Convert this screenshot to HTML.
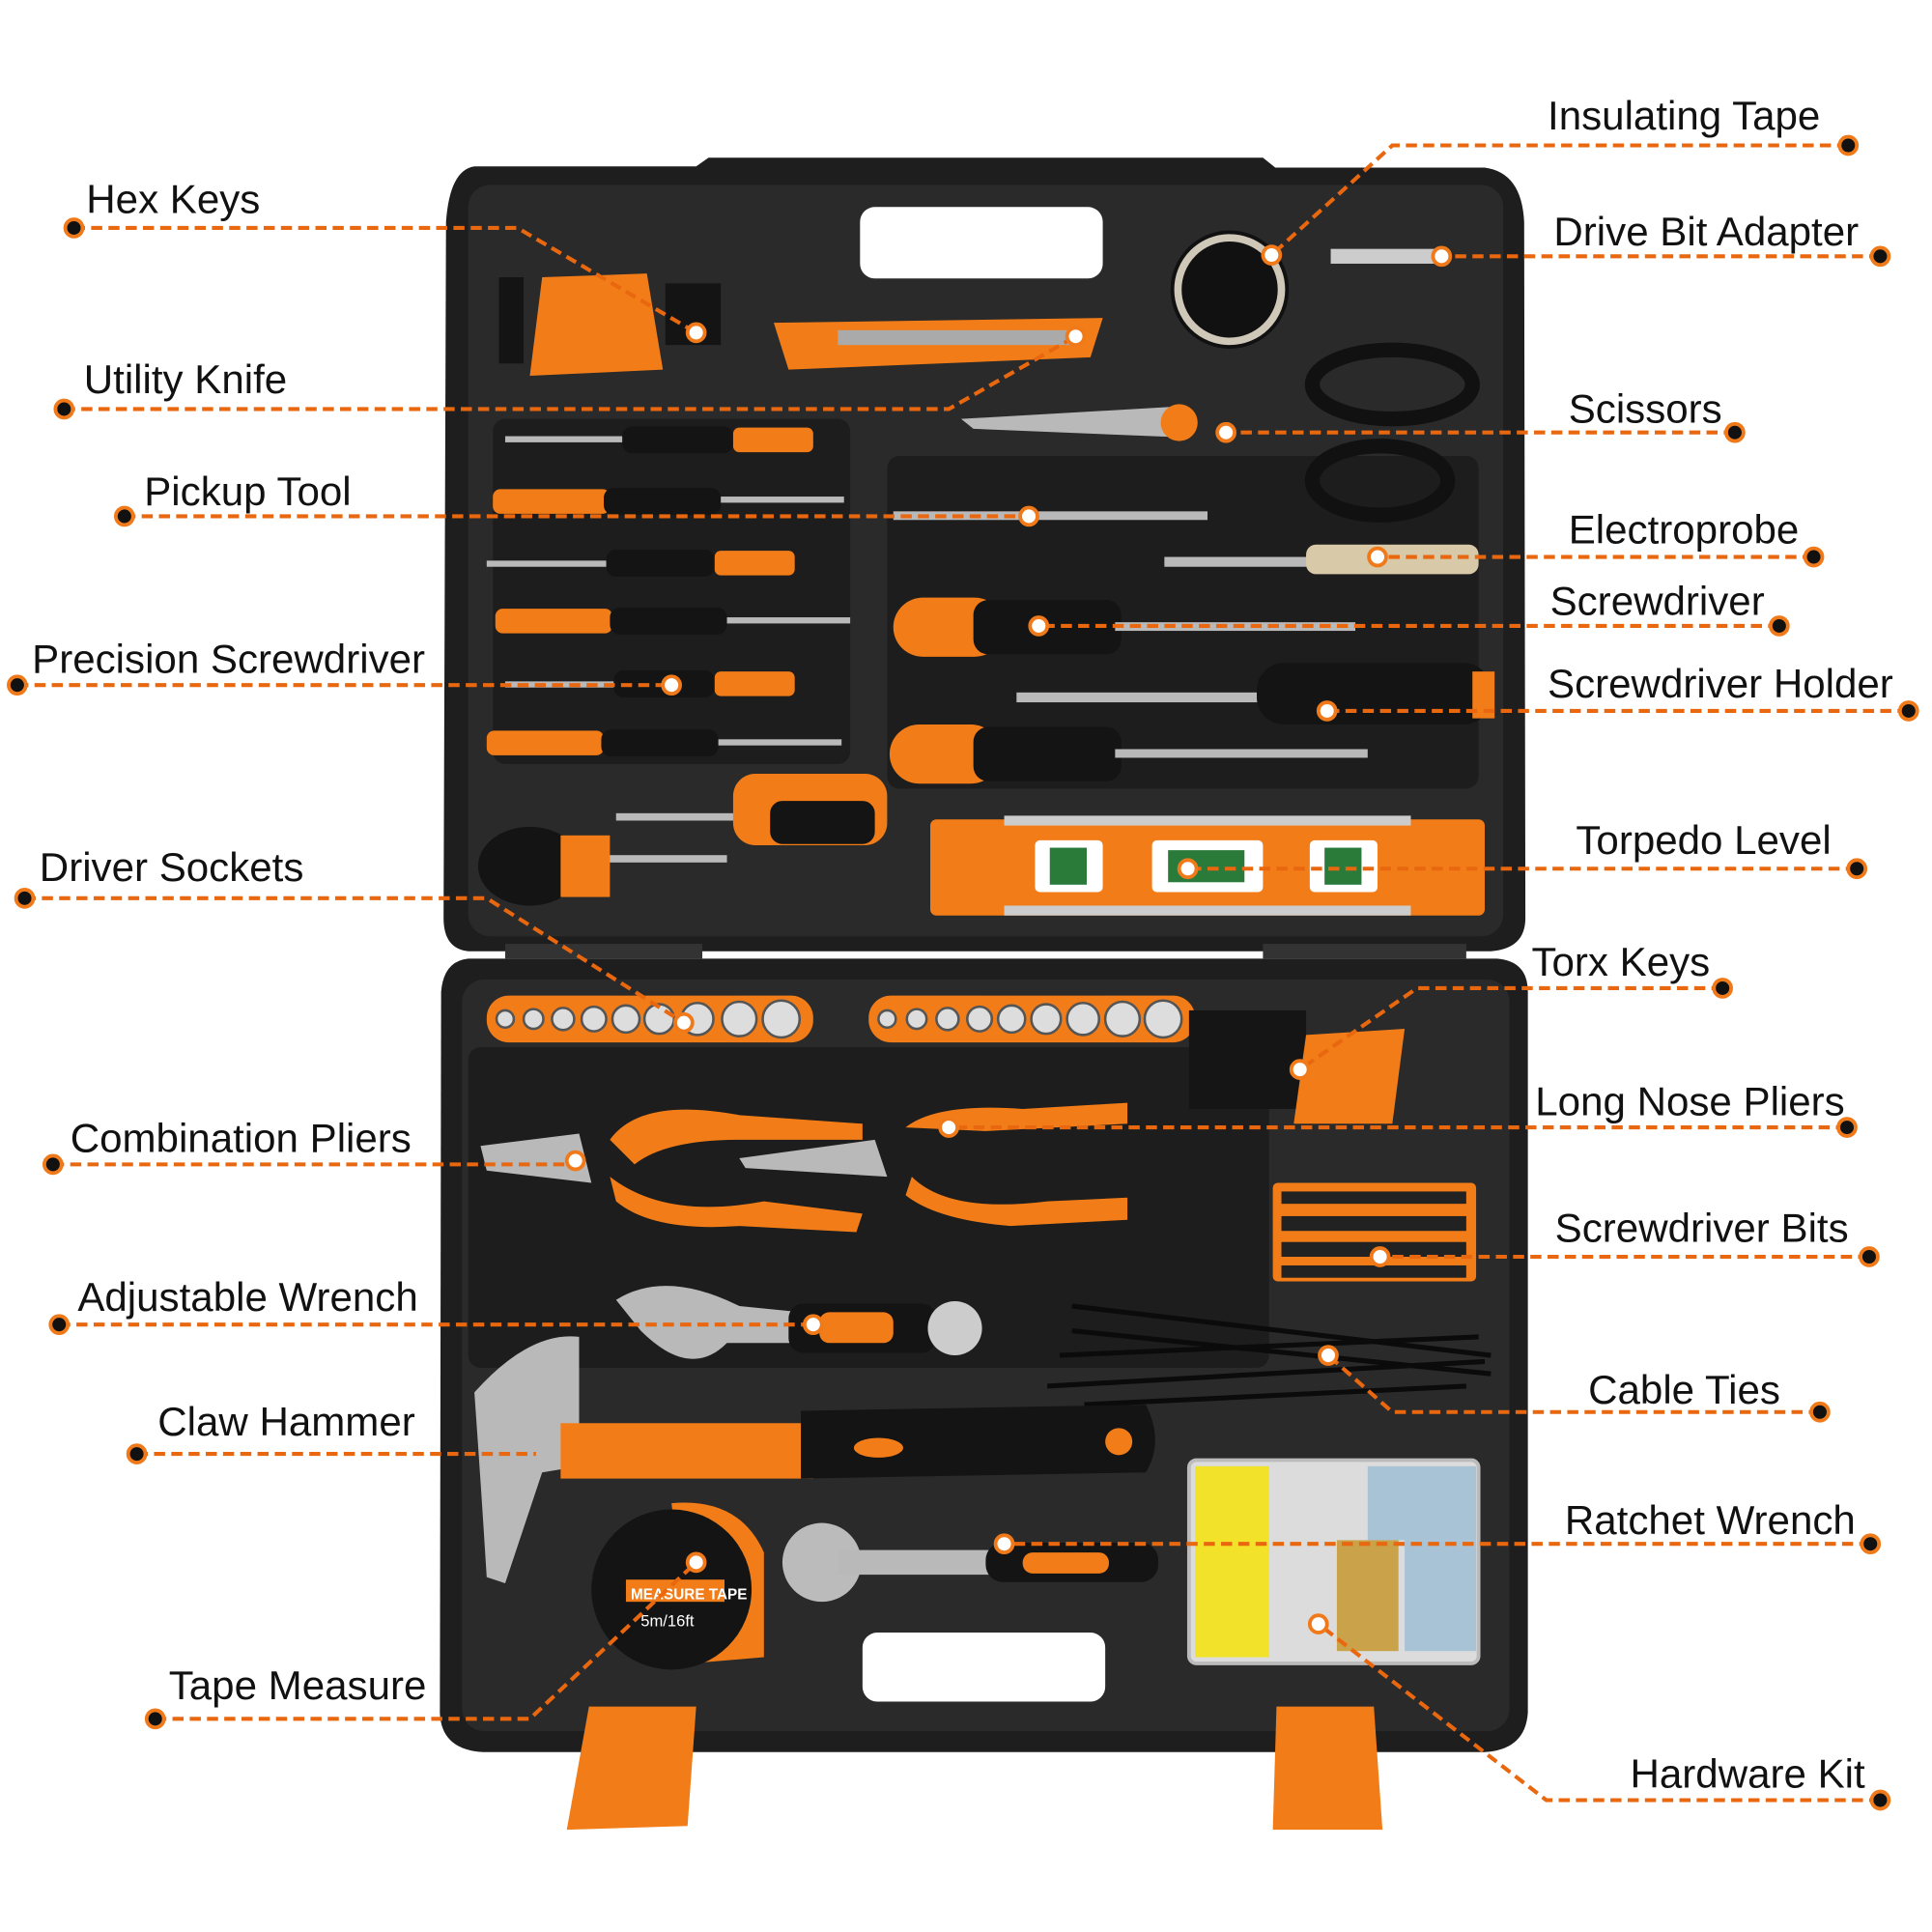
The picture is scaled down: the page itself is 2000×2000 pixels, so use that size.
<!DOCTYPE html>
<html><head><meta charset="utf-8"><style>
html,body{margin:0;padding:0;background:#fff;width:2000px;height:2000px;overflow:hidden}
svg{display:block}
text{font-family:"Liberation Sans","DejaVu Sans",sans-serif;font-size:33px;fill:#111}
.l{fill:none;stroke:#e8670f;stroke-width:3.2;stroke-dasharray:9 5}
.d{fill:#111;stroke:#f07a1a;stroke-width:3}
.w{fill:#fff;stroke:#f07a1a;stroke-width:3}
.o{fill:#f27d18}
.k{fill:#141414}
.s{fill:#b9b9b9}
</style></head><body>
<svg width="2000" height="2000" viewBox="0 0 1568 1568" xmlns="http://www.w3.org/2000/svg">
<rect width="1568" height="1568" fill="#fff"/>
<!-- top lid -->
<path fill="#1e1e1e" d="M385 135 L565 135 L575 128 L1025 128 L1035 136 L1205 136 Q1235 140 1237 180 L1238 745 Q1238 770 1210 772 L380 772 Q360 770 360 745 L362 180 Q365 138 385 135 Z"/>
<rect x="380" y="150" width="840" height="610" rx="18" fill="#2a2a2a"/>
<rect x="698" y="168" width="197" height="58" rx="12" fill="#fff"/>
<!-- bottom case -->
<path fill="#1e1e1e" d="M380 778 L1215 778 Q1240 780 1240 805 L1240 1390 Q1238 1420 1205 1422 L392 1422 Q358 1420 357 1390 L358 805 Q360 780 380 778 Z"/>
<rect x="375" y="795" width="850" height="610" rx="18" fill="#2a2a2a"/>
<rect x="700" y="1325" width="197" height="56" rx="12" fill="#fff"/>
<!-- feet -->
<path class="o" d="M478 1385 L565 1385 L558 1482 L460 1485 Z"/>
<path class="o" d="M1036 1385 L1115 1385 L1122 1485 L1033 1485 Z"/>
<!-- hinge -->
<rect x="410" y="766" width="160" height="12" fill="#333"/>
<rect x="1025" y="766" width="165" height="12" fill="#333"/>
<!-- recesses -->
<g fill="#1d1d1d">
<rect x="400" y="340" width="290" height="280" rx="10"/>
<rect x="720" y="370" width="480" height="270" rx="10"/>
<rect x="380" y="850" width="650" height="260" rx="10"/>
</g>
<!-- hex keys -->
<path class="o" d="M440 225 L525 222 L538 300 L430 305 Z"/>
<path class="k" d="M405 225 h20 v70 h-20z M540 230 h45 v50 h-45z"/>
<!-- utility knife -->
<path class="o" d="M628 262 L895 258 L885 290 L640 300 Z"/>
<rect x="680" y="268" width="190" height="12" fill="#aaa"/>
<!-- tape -->
<circle cx="998" cy="235" r="48" fill="#111"/>
<circle cx="998" cy="235" r="42" fill="none" stroke="#cfc7b8" stroke-width="6"/>
<rect x="1080" y="202" width="90" height="12" fill="#ccc"/>
<!-- scissors -->
<path class="s" d="M780 340 L955 330 L960 355 L790 348 Z"/>
<circle cx="957" cy="343" r="15" class="o"/>
<ellipse cx="1130" cy="312" rx="65" ry="28" fill="none" stroke="#111" stroke-width="12"/>
<ellipse cx="1120" cy="390" rx="55" ry="28" fill="none" stroke="#111" stroke-width="12"/>
<!-- precision screwdrivers -->
<g>
<rect x="410" y="354" width="100" height="5" class="s"/><rect x="505" y="346" width="90" height="22" rx="8" class="k"/><rect x="595" y="347" width="65" height="20" rx="5" class="o"/>
<rect x="400" y="397" width="95" height="20" rx="6" class="o"/><rect x="490" y="396" width="95" height="22" rx="8" class="k"/><rect x="585" y="403" width="100" height="5" class="s"/>
<rect x="395" y="455" width="100" height="5" class="s"/><rect x="492" y="446" width="88" height="22" rx="8" class="k"/><rect x="580" y="447" width="65" height="20" rx="5" class="o"/>
<rect x="402" y="494" width="95" height="20" rx="6" class="o"/><rect x="495" y="493" width="95" height="22" rx="8" class="k"/><rect x="590" y="501" width="100" height="5" class="s"/>
<rect x="410" y="553" width="90" height="5" class="s"/><rect x="498" y="544" width="82" height="22" rx="8" class="k"/><rect x="580" y="545" width="65" height="20" rx="5" class="o"/>
<rect x="395" y="593" width="95" height="20" rx="6" class="o"/><rect x="488" y="592" width="95" height="22" rx="8" class="k"/><rect x="583" y="600" width="100" height="5" class="s"/>
</g>
<!-- pickup tool, electroprobe -->
<rect x="725" y="415" width="255" height="7" class="s"/>
<rect x="945" y="452" width="250" height="8" class="s"/><rect x="1060" y="442" width="140" height="24" rx="8" fill="#d8c9a8"/>
<!-- screwdrivers -->
<rect x="725" y="485" width="90" height="48" rx="24" class="o"/><rect x="790" y="487" width="120" height="44" rx="12" class="k"/><rect x="905" y="505" width="195" height="7" class="s"/>
<rect x="825" y="562" width="200" height="8" class="s"/><rect x="1020" y="538" width="190" height="50" rx="22" class="k"/><rect x="1195" y="545" width="18" height="38" class="o"/>
<rect x="722" y="588" width="90" height="48" rx="24" class="o"/><rect x="790" y="590" width="120" height="44" rx="12" class="k"/><rect x="905" y="608" width="205" height="7" class="s"/>
<rect x="500" y="660" width="110" height="6" class="s"/><rect x="595" y="628" width="125" height="58" rx="18" class="o"/><rect x="625" y="650" width="85" height="35" rx="10" class="k"/>
<rect x="470" y="694" width="120" height="6" class="s"/><ellipse cx="430" cy="703" rx="42" ry="32" class="k"/><rect x="455" y="678" width="40" height="50" class="o"/>
<!-- level -->
<rect x="755" y="665" width="450" height="78" rx="5" class="o"/>
<rect x="815" y="662" width="330" height="8" fill="#ccc"/><rect x="815" y="735" width="330" height="8" fill="#ccc"/>
<rect x="840" y="682" width="55" height="42" rx="4" fill="#fff"/><rect x="852" y="688" width="30" height="30" fill="#2a7a3a"/>
<rect x="935" y="682" width="90" height="42" rx="4" fill="#fff"/><rect x="948" y="690" width="62" height="26" fill="#2a7a3a"/>
<rect x="1063" y="682" width="55" height="42" rx="4" fill="#fff"/><rect x="1075" y="688" width="30" height="30" fill="#2a7a3a"/>
<!-- sockets -->
<rect x="395" y="808" width="265" height="38" rx="18" class="o"/>
<rect x="705" y="808" width="265" height="38" rx="18" class="o"/>
<g fill="#ddd" stroke="#555" stroke-width="2">
<circle cx="410" cy="827" r="7"/><circle cx="433" cy="827" r="8"/><circle cx="457" cy="827" r="9"/><circle cx="482" cy="827" r="10"/><circle cx="508" cy="827" r="11"/><circle cx="535" cy="827" r="12"/><circle cx="566" cy="827" r="13"/><circle cx="600" cy="827" r="14"/><circle cx="634" cy="827" r="15"/>
<circle cx="720" cy="827" r="7"/><circle cx="744" cy="827" r="8"/><circle cx="769" cy="827" r="9"/><circle cx="795" cy="827" r="10"/><circle cx="821" cy="827" r="11"/><circle cx="849" cy="827" r="12"/><circle cx="879" cy="827" r="13"/><circle cx="911" cy="827" r="14"/><circle cx="944" cy="827" r="15"/>
</g>
<!-- torx -->
<rect x="965" y="820" width="95" height="80" fill="#151515"/>
<path class="o" d="M1060 840 L1140 835 L1130 912 L1050 912 Z"/>
<!-- pliers -->
<path class="s" d="M390 930 L470 920 L480 960 L395 950 Z"/>
<path class="o" d="M495 925 Q520 890 600 905 L700 912 L700 925 L600 925 Q540 925 515 945 Z"/>
<path class="o" d="M495 955 Q540 990 620 975 L700 985 L695 1000 L600 995 Q530 1000 500 975 Z"/>
<path class="s" d="M600 940 L710 925 L720 955 L605 948 Z"/>
<path class="o" d="M735 915 Q760 895 830 900 L915 895 L915 912 L800 918 Z"/>
<path class="o" d="M740 955 Q770 985 850 975 L915 972 L915 990 L820 995 Q760 990 735 970 Z"/>
<!-- bits -->
<rect x="1033" y="960" width="165" height="80" rx="4" class="o"/>
<g fill="#222"><rect x="1040" y="967" width="150" height="10"/><rect x="1040" y="987" width="150" height="12"/><rect x="1040" y="1008" width="150" height="12"/><rect x="1040" y="1027" width="150" height="10"/></g>
<!-- wrench -->
<path class="s" d="M500 1055 Q540 1030 600 1060 L650 1065 L650 1090 L590 1090 Q560 1120 520 1080 Z"/>
<rect x="640" y="1058" width="120" height="40" rx="12" class="k"/><rect x="665" y="1065" width="60" height="25" rx="8" class="o"/>
<circle cx="775" cy="1078" r="22" fill="#ccc"/>
<!-- cable ties -->
<g stroke="#0b0b0b" stroke-width="4"><line x1="870" y1="1060" x2="1210" y2="1100"/><line x1="870" y1="1080" x2="1210" y2="1115"/><line x1="860" y1="1100" x2="1200" y2="1085"/><line x1="850" y1="1125" x2="1205" y2="1105"/><line x1="880" y1="1140" x2="1190" y2="1125"/></g>
<!-- hammer -->
<path class="s" d="M385 1130 Q430 1080 470 1085 L470 1190 L440 1195 L410 1285 L395 1280 Q390 1200 385 1130 Z"/>
<path class="o" d="M455 1155 L660 1155 L660 1200 L455 1200 Z"/>
<path class="k" d="M650 1145 L930 1140 Q945 1170 930 1195 L650 1200 Z"/>
<ellipse cx="713" cy="1175" rx="20" ry="8" class="o"/><circle cx="908" cy="1170" r="11" class="o"/>
<!-- tape measure -->
<path class="o" d="M545 1220 Q600 1215 620 1260 L620 1345 L560 1350 Z"/>
<circle cx="545" cy="1290" r="65" class="k"/>
<rect x="508" y="1282" width="80" height="18" class="o"/>
<text x="512" y="1298" style="font-size:12px;fill:#fff;font-weight:bold">MEASURE TAPE</text>
<text x="520" y="1320" style="font-size:13px;fill:#fff">5m/16ft</text>
<!-- ratchet -->
<circle cx="667" cy="1268" r="32" fill="#bbb"/><rect x="680" y="1258" width="130" height="20" class="s"/>
<rect x="800" y="1252" width="140" height="32" rx="14" class="k"/><rect x="830" y="1260" width="70" height="17" rx="8" class="o"/>
<!-- hardware kit -->
<rect x="965" y="1185" width="235" height="165" rx="6" fill="#dcdcdc" stroke="#bbb" stroke-width="3"/>
<rect x="970" y="1190" width="60" height="155" fill="#f2e22a"/>
<rect x="1110" y="1190" width="88" height="60" fill="#a9c3d6"/><rect x="1140" y="1250" width="58" height="90" fill="#a9c3d6"/>
<rect x="1085" y="1250" width="50" height="90" fill="#c9a24a"/>
<!-- connector lines -->
<path class="l" d="M60 185 H420 L565 270"/>
<path class="l" d="M52 332 H770 L873 273"/>
<path class="l" d="M101 419 H835"/>
<path class="l" d="M14 556 H545"/>
<path class="l" d="M20 729 H395 L555 830"/>
<path class="l" d="M43 945 H467"/>
<path class="l" d="M48 1075 H660"/>
<path class="l" d="M111 1180 H435"/>
<path class="l" d="M126 1395 H430 L565 1268"/>
<path class="l" d="M1500 118 H1130 L1032 207"/>
<path class="l" d="M1526 208 H1170"/>
<path class="l" d="M1408 351 H995"/>
<path class="l" d="M1472 452 H1118"/>
<path class="l" d="M1444 508 H843"/>
<path class="l" d="M1549 577 H1077"/>
<path class="l" d="M1507 705 H964"/>
<path class="l" d="M1398 802 H1150 L1055 868"/>
<path class="l" d="M1499 915 H770"/>
<path class="l" d="M1517 1020 H1120"/>
<path class="l" d="M1477 1146 H1130 L1078 1100"/>
<path class="l" d="M1518 1253 H815"/>
<path class="l" d="M1526 1461 H1255 L1070 1318"/>
<!-- outer dots -->
<g class="d">
<circle cx="60" cy="185" r="7"/><circle cx="52" cy="332" r="7"/><circle cx="101" cy="419" r="7"/><circle cx="14" cy="556" r="7"/><circle cx="20" cy="729" r="7"/><circle cx="43" cy="945" r="7"/><circle cx="48" cy="1075" r="7"/><circle cx="111" cy="1180" r="7"/><circle cx="126" cy="1395" r="7"/>
<circle cx="1500" cy="118" r="7"/><circle cx="1526" cy="208" r="7"/><circle cx="1408" cy="351" r="7"/><circle cx="1472" cy="452" r="7"/><circle cx="1444" cy="508" r="7"/><circle cx="1549" cy="577" r="7"/><circle cx="1507" cy="705" r="7"/><circle cx="1398" cy="802" r="7"/><circle cx="1499" cy="915" r="7"/><circle cx="1517" cy="1020" r="7"/><circle cx="1477" cy="1146" r="7"/><circle cx="1518" cy="1253" r="7"/><circle cx="1526" cy="1461" r="7"/>
</g>
<g class="w">
<circle cx="565" cy="270" r="7"/><circle cx="873" cy="273" r="7"/><circle cx="835" cy="419" r="7"/><circle cx="545" cy="556" r="7"/><circle cx="555" cy="830" r="7"/><circle cx="467" cy="942" r="7"/><circle cx="660" cy="1075" r="7"/><circle cx="565" cy="1268" r="7"/>
<circle cx="1032" cy="207" r="7"/><circle cx="1170" cy="208" r="7"/><circle cx="995" cy="351" r="7"/><circle cx="1118" cy="452" r="7"/><circle cx="843" cy="508" r="7"/><circle cx="1077" cy="577" r="7"/><circle cx="964" cy="705" r="7"/><circle cx="1055" cy="868" r="7"/><circle cx="770" cy="915" r="7"/><circle cx="1120" cy="1020" r="7"/><circle cx="1078" cy="1100" r="7"/><circle cx="815" cy="1253" r="7"/><circle cx="1070" cy="1318" r="7"/>
</g>
<!-- labels -->
<text x="70" y="173">Hex Keys</text>
<text x="68" y="319">Utility Knife</text>
<text x="117" y="410">Pickup Tool</text>
<text x="26" y="546">Precision Screwdriver</text>
<text x="32" y="715">Driver Sockets</text>
<text x="57" y="935">Combination Pliers</text>
<text x="63" y="1064">Adjustable Wrench</text>
<text x="128" y="1165">Claw Hammer</text>
<text x="137" y="1379">Tape Measure</text>
<text x="1256" y="105">Insulating Tape</text>
<text x="1261" y="199">Drive Bit Adapter</text>
<text x="1273" y="343">Scissors</text>
<text x="1273" y="441">Electroprobe</text>
<text x="1258" y="499">Screwdriver</text>
<text x="1256" y="566">Screwdriver Holder</text>
<text x="1279" y="693">Torpedo Level</text>
<text x="1243" y="792">Torx Keys</text>
<text x="1246" y="905">Long Nose Pliers</text>
<text x="1262" y="1008">Screwdriver Bits</text>
<text x="1289" y="1139">Cable Ties</text>
<text x="1270" y="1245">Ratchet Wrench</text>
<text x="1323" y="1451">Hardware Kit</text>
</svg>
</body></html>
